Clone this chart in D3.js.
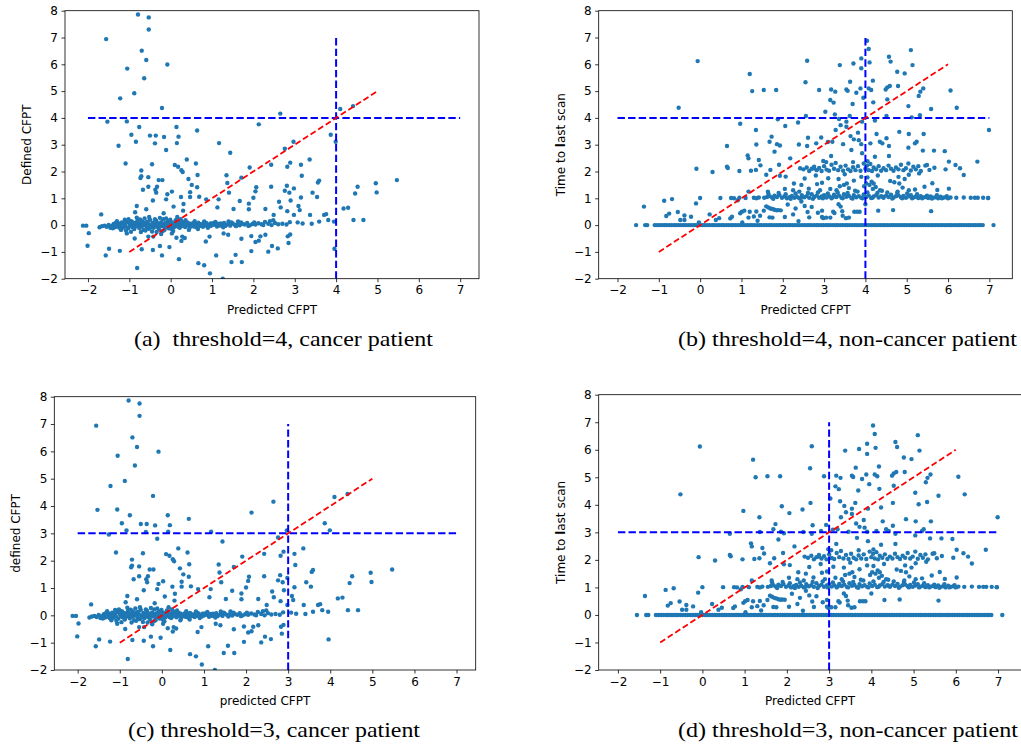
<!DOCTYPE html>
<html>
<head>
<meta charset="utf-8">
<script src="https://cdn.jsdelivr.net/npm/d3@7"></script>
<style>
  body { margin: 0; background: #fff; }
  svg { display: block; }
</style>
</head>
<body>
<svg id="chart" width="1021" height="746"></svg>
<script>
// tick values shared by every panel
let xTicks = [-2, -1, 0, 1, 2, 3, 4, 5, 6, 7]
let yTicks = [-2, -1, 0, 1, 2, 3, 4, 5, 6, 7, 8]

// cancer patients: scattered points (predicted, defined)
let cancerScatter = [
  [-0.79,7.86],[-0.53,7.75],[-0.53,7.30],[-1.56,6.94],[-0.70,6.51],[-0.59,6.16],[-0.08,5.99],
  [-1.05,5.84],[-0.64,5.48],[-0.88,4.92],[-1.22,4.73],[-0.21,4.37],[-1.53,3.86],[-1.06,3.87],
  [-0.76,3.66],[-0.95,3.37],[-0.50,3.34],[-0.36,3.34],[-0.84,3.11],[-1.26,2.96],[-0.38,3.05],
  [-0.16,3.29],[-0.11,2.80],[0.14,3.66],[0.19,3.30],[0.15,3.06],[0.64,3.53],[1.17,3.06],
  [1.44,2.70],[2.13,3.76],[2.65,4.16],[2.97,3.11],[2.76,2.85],[3.87,3.37],[3.99,3.11],
  [4.10,4.33],[4.41,4.44],[-1.09,2.30],[-0.45,2.27],[-0.71,2.04],[-0.71,1.82],[-0.73,1.76],
  [-0.54,1.79],[-0.29,1.68],[-0.20,1.68],[-0.54,1.43],[-0.67,1.32],[-0.37,1.32],[-0.33,1.43],
  [-0.35,1.21],[-0.43,0.92],[-0.59,0.59],[-0.82,0.71],[-0.86,0.48],[-1.68,0.40],[0.03,1.25],
  [-0.08,1.15],[-0.11,0.96],[0.10,2.24],[0.18,2.18],[0.26,2.05],[0.29,1.98],[0.39,2.45],
  [0.61,2.30],[0.65,1.87],[0.51,1.50],[0.43,1.72],[0.64,1.41],[0.47,1.23],[0.47,1.05],
  [0.25,1.05],[0.31,0.79],[0.69,1.06],[0.30,0.54],[0.07,0.69],[-0.17,0.44],[0.86,0.96],
  [1.16,0.96],[1.13,0.66],[1.35,1.86],[1.37,1.57],[1.41,1.21],[1.52,0.60],[1.67,0.90],
  [1.71,1.77],[1.91,2.15],[1.89,0.80],[1.89,0.59],[2.00,1.02],[2.05,1.26],[2.07,1.41],
  [2.29,0.60],[2.43,2.25],[2.43,1.43],[2.49,0.38],[2.62,0.87],[2.66,0.66],[2.82,2.18],
  [2.89,2.33],[2.81,1.47],[2.76,1.28],[2.87,1.21],[2.98,1.37],[2.90,0.92],[2.82,0.52],
  [2.98,0.38],[3.12,0.56],[3.15,2.25],[3.17,1.84],[3.15,1.03],[3.09,0.71],[3.36,2.45],
  [3.43,1.21],[3.54,1.05],[3.56,1.59],[3.59,1.66],[3.71,0.38],[3.37,0.38],[3.76,0.41],
  [4.18,0.62],[4.29,0.65],[4.46,1.18],[4.52,1.43],[4.96,1.56],[4.98,1.22],[5.47,1.68],
  [4.42,0.19],[4.66,0.19],[3.95,0.13],[3.81,0.19],[3.59,0.13],[3.41,0.05],[3.19,0.06],
  [3.07,0.10],[2.88,0.11],[-2.12,-0.02],[-2.04,-0.02],[-1.98,-0.30],[-2.01,-0.77],
  [-1.49,-0.88],[-1.57,-1.13],[-1.23,-0.96],[-1.06,-0.31],[-0.87,-0.50],[-0.70,-0.90],
  [-0.81,-1.60],[-0.43,-0.93],[-0.54,-0.43],[-0.42,-0.43],[-0.26,-0.78],[-0.21,-1.13],
  [-0.23,-0.33],[-0.03,-0.82],[0.14,-0.47],[0.28,-0.43],[0.26,-0.59],[0.34,-0.48],
  [0.20,-1.27],[0.03,-0.31],[0.67,-1.42],[0.81,-1.50],[0.95,-1.80],[1.26,-2.00],[0.85,-0.61],
  [0.94,-0.43],[1.10,-1.13],[1.28,-0.31],[1.39,-0.36],[1.47,-1.38],[1.57,-1.11],[1.72,-1.38],
  [1.71,-0.51],[1.95,-0.41],[1.95,-0.97],[2.05,-0.63],[2.13,-0.58],[2.17,-0.42],[2.29,-0.36],
  [2.36,-0.99],[2.45,-0.78],[2.59,-0.87],[2.83,-0.42],[2.89,-0.35],[2.85,-0.67],[3.96,-0.88]
]

// cancer patients: the dense band around zero
let cancerBand = [
  [-1.72,-0.08],[-1.66,-0.04],[-1.60,-0.02],[-1.55,-0.06],[-1.50,0.01],[-1.46,-0.10],[-1.42,-0.03],
  [-1.38,0.04],[-1.35,-0.08],[-1.31,0.00],[-1.28,-0.05],[-1.25,0.06],[-1.21,-0.02],[-1.18,0.10],
  [-1.15,-0.09],[-1.12,0.03],[-1.09,-0.04],[-1.06,0.12],[-1.03,-0.12],[-1.00,0.05],[-0.98,-0.02],
  [-0.95,0.15],[-0.93,-0.07],[-0.90,0.02],[-0.88,-0.15],[-0.85,0.08],[-0.83,-0.03],[-0.80,0.18],
  [-0.78,0.00],[-0.76,-0.11],[-0.73,0.06],[-0.71,-0.05],[-0.69,0.14],[-0.66,-0.18],[-0.64,0.03],
  [-0.62,-0.01],[-0.60,0.10],[-0.57,-0.08],[-0.55,0.05],[-0.53,-0.14],[-0.50,0.20],[-0.48,0.00],
  [-0.46,-0.05],[-0.44,0.09],[-0.41,-0.10],[-0.39,0.04],[-0.37,-0.02],[-0.35,0.16],[-0.32,-0.07],
  [-0.30,0.06],[-0.28,-0.16],[-0.25,0.01],[-0.23,0.11],[-0.21,-0.04],[-0.18,0.22],[-0.16,0.03],
  [-0.14,-0.09],[-0.12,0.08],[-0.09,-0.01],[-0.07,0.15],[-0.05,-0.12],[-0.02,0.04],[0.00,-0.05],
  [0.03,0.10],[0.05,0.00],[0.08,-0.08],[0.10,0.06],[0.13,-0.02],[0.15,0.13],[0.18,-0.06],
  [0.20,0.02],[0.23,0.08],[0.26,-0.04],[0.29,0.01],[0.32,0.05],[0.35,-0.07],[0.38,0.03],
  [0.41,-0.01],[0.45,0.06],[0.48,-0.03],[0.52,0.02],[0.56,-0.05],[0.60,0.04],[0.63,0.00],
  [0.67,0.09],[0.71,-0.03],[0.75,0.02],[0.79,0.05],[0.83,-0.02],[0.87,0.03],[0.92,0.00],
  [0.96,0.06],[1.00,-0.01],[1.05,0.03],[1.10,0.00],[1.14,0.05],[1.19,-0.02],[1.24,0.02],
  [1.29,0.08],[1.34,0.00],[1.39,0.04],[1.44,-0.02],[1.50,0.06],[1.55,0.01],[1.61,0.03],
  [1.67,-0.01],[1.73,0.05],[1.79,0.02],[1.85,0.08],[1.92,0.00],[1.98,0.04],[2.05,0.02],
  [2.12,0.07],[2.20,0.03],[2.28,0.12],[2.36,0.05],[2.44,0.00],[2.52,0.08],[2.60,0.03],
  [2.70,0.05],[2.80,0.02],
  [-1.40,-0.12],[-1.33,0.08],[-1.24,-0.10],[-1.14,0.07],[-1.08,-0.20],[-0.99,0.09],[-0.91,0.10],
  [-0.86,-0.06],[-0.79,0.05],[-0.74,0.21],[-0.68,-0.02],[-0.61,-0.20],[-0.56,0.13],[-0.49,-0.09],
  [-0.43,0.02],[-0.38,0.22],[-0.33,0.07],[-0.27,-0.03],[-0.20,0.05],[-0.15,-0.18],[-0.10,0.02],
  [-0.04,0.07],[0.02,-0.15],[0.07,0.03],[0.12,0.18],[0.17,0.05],[0.22,-0.10],[0.27,0.14],
  [0.33,-0.02],[0.40,0.10],[0.46,-0.10],[0.54,0.07],[0.62,-0.08],[0.70,0.04],[0.78,-0.06],
  [0.86,0.08],[0.95,-0.04],[1.02,0.07],[1.12,-0.05],[1.21,0.06],[1.32,-0.03],[1.47,0.10],
  [1.58,-0.04],[1.70,0.10],[1.88,-0.03],[2.02,0.10],[2.24,0.00],[2.40,0.15],[2.48,0.18],
  [-1.30,0.15],[-1.20,-0.18],[-1.11,0.20],[-1.02,0.22],[-0.96,-0.25],[-0.82,0.28],[-0.72,-0.26],
  [-0.63,0.25],[-0.52,0.30],[-0.45,-0.24],[-0.34,-0.26],[-0.26,0.27],[-0.19,-0.22],[-0.11,0.25],
  [-0.01,0.20],[0.06,-0.22],[0.16,0.30],[0.24,0.22],[0.36,0.18],[0.44,-0.18],[0.58,0.15],
  [0.66,-0.15],[0.81,0.14],[0.90,-0.10],[1.08,0.12],[1.27,-0.08],[1.40,0.14],[1.63,0.14]
]

// non-cancer patients: x values of the row sitting exactly at zero
let nonCancerZeroX = [
  -1.55,-1.33,-1.28,-1.10,-1.04,-0.98,-0.92,-0.86,-0.81,-0.75,-0.69,-0.63,-0.58,-0.52,-0.46,
  -0.40,-0.35,-0.29,-0.23,-0.17,-0.12,-0.06,0.00,0.06,0.11,0.17,0.23,0.29,0.34,0.40,0.46,0.52,
  0.57,0.63,0.69,0.75,0.80,0.86,0.92,0.98,1.03,1.09,1.15,1.21,1.26,1.32,1.38,1.44,1.49,1.55,
  1.61,1.67,1.72,1.78,1.84,1.90,1.95,2.01,2.07,2.13,2.18,2.24,2.30,2.36,2.41,2.47,2.53,2.59,
  2.64,2.70,2.76,2.82,2.87,2.93,2.99,3.05,3.10,3.16,3.22,3.28,3.33,3.39,3.45,3.51,3.56,3.62,
  3.68,3.74,3.79,3.85,3.91,3.97,4.02,4.08,4.14,4.20,4.25,4.31,4.37,4.43,4.48,4.54,4.60,4.66,
  4.71,4.77,4.83,4.89,4.94,5.00,5.06,5.12,5.17,5.23,5.29,5.35,5.40,5.46,5.52,5.58,5.63,5.69,
  5.75,5.81,5.86,5.92,5.98,6.04,6.09,6.15,6.21,6.27,6.32,6.38,6.44,6.50,6.55,6.61,6.67,6.73,
  6.78,6.84,7.10
]

// non-cancer patients: band around one
let nonCancerBand1 = [
  [0.75,1.01],[0.82,1.00],[0.95,1.02],[1.10,1.01],[1.30,1.02],[1.36,1.00],[1.42,1.03],[1.55,1.02],
  [1.62,1.05],[1.68,1.08],[1.74,1.03],[1.80,1.10],[1.86,1.05],[1.92,1.12],[1.98,1.02],[2.04,1.07],
  [2.10,1.00],[2.16,1.04],[2.22,1.09],[2.28,1.02],[2.34,1.06],[2.40,1.00],[2.46,1.12],[2.52,1.04],
  [2.58,1.08],[2.64,1.02],[2.70,1.15],[2.76,1.05],[2.82,1.10],[2.88,1.02],[2.94,1.07],[3.00,1.12],
  [3.06,1.03],[3.12,1.08],[3.18,1.00],[3.24,1.13],[3.30,1.05],[3.36,1.10],[3.42,1.02],[3.48,1.15],
  [3.54,1.06],[3.60,1.09],[3.66,1.01],[3.72,1.12],[3.78,1.04],[3.84,1.08],[3.90,1.02],[3.96,1.14],
  [4.02,1.05],[4.08,1.10],[4.14,1.01],[4.20,1.07],[4.26,1.12],[4.32,1.03],[4.38,1.08],[4.44,1.02],
  [4.50,1.10],[4.56,1.05],[4.62,1.13],[4.68,1.03],[4.74,1.08],[4.80,1.11],[4.86,1.04],[4.92,1.09],
  [4.98,1.02],[5.04,1.07],[5.10,1.12],[5.16,1.03],[5.22,1.06],[5.28,1.01],[5.34,1.08],[5.40,1.03],
  [5.46,1.05],[5.52,1.01],[5.58,1.07],[5.64,1.02],[5.70,1.04],[5.76,1.00],[5.82,1.06],[5.88,1.02],
  [5.94,1.04],[6.00,1.00],[6.06,1.03],[6.20,1.02],[6.38,1.03],[6.55,1.02],[6.65,1.02],[6.72,1.02],
  [6.85,1.02],[6.97,1.01],
  [1.65,1.18],[1.77,0.98],[1.90,1.20],[2.07,1.15],[2.19,0.98],[2.31,1.18],[2.44,1.02],[2.61,1.20],
  [2.73,0.98],[2.85,1.22],[2.97,1.00],[3.09,1.18],[3.21,1.04],[3.33,1.22],[3.45,1.00],[3.57,1.20],
  [3.69,0.99],[3.81,1.25],[3.93,1.00],[4.05,1.22],[4.17,1.02],[4.29,1.20],[4.41,1.06],[4.53,1.22],
  [4.65,0.99],[4.77,1.20],[4.89,1.00],[5.01,1.18],[5.13,1.00],[5.25,1.15],[5.37,1.00],[5.49,1.10],
  [5.61,0.99],[5.73,1.12],[5.85,1.00],[5.97,1.08],
  [2.25,1.30],[2.40,1.25],[2.05,1.35],[2.63,1.36],[2.90,1.30],[3.15,1.35],[3.30,1.30],[3.38,1.45],
  [3.48,1.50],[3.60,1.38],[3.75,1.28],[3.97,1.45],[4.02,1.55],[4.10,1.50],[4.18,1.35],[4.25,1.42],
  [4.35,1.30],[4.40,1.28],[4.78,1.25],[4.82,1.55],[4.90,1.40],[5.05,1.30],[5.20,1.33],[4.20,1.55],
  [3.55,1.55],[2.83,1.53]
]

// non-cancer patients: band around two
let nonCancerBand2 = [
  [2.42,2.12],[2.50,2.08],[2.58,2.15],[2.64,2.02],[2.70,2.10],[2.76,2.18],[2.82,2.05],[2.88,2.13],
  [2.94,2.02],[3.00,2.20],[3.06,2.07],[3.12,2.03],[3.18,2.25],[3.24,2.10],[3.28,2.32],[3.34,2.05],
  [3.40,2.18],[3.46,2.03],[3.52,2.22],[3.58,2.08],[3.64,2.02],[3.70,2.16],[3.76,2.05],[3.82,2.20],
  [3.88,2.03],[3.96,2.30],[4.00,2.10],[4.04,2.22],[4.08,2.05],[4.12,2.28],[4.16,2.02],[4.20,2.15],
  [4.26,2.08],[4.32,2.20],[4.38,2.03],[4.44,2.12],[4.50,2.05],[4.56,2.22],[4.62,2.10],[4.68,2.03],
  [4.74,2.15],[4.80,2.08],[4.86,2.25],[4.92,2.05],[4.98,2.12],[5.04,2.30],[5.10,2.04],[5.16,2.18],
  [5.22,2.08],[5.28,2.20],[5.34,2.02],[5.45,2.22],[5.55,2.06],[3.05,2.35],[3.70,2.35],[4.05,2.38],
  [2.27,1.55],[2.45,1.50],[2.95,1.58],[3.35,1.72],[3.50,1.90],[3.72,1.66],[3.90,1.80],[4.05,1.78],
  [4.15,1.62],[4.30,1.85],[4.60,1.65],[4.70,1.60],[4.95,1.72],[5.05,1.88],[4.80,1.80],[2.80,1.85],
  [3.10,1.75]
]

// non-cancer patients: everything else
let nonCancerScatter = [
  [-0.06,6.12],[-0.52,4.38],[-1.36,0.69],[-0.87,0.91],[-0.68,0.97],[-0.82,0.34],[-0.75,0.43],
  [-0.54,0.49],[-0.38,0.36],[-0.48,0.19],[-0.38,0.19],[-0.22,0.31],[-0.10,0.81],[0.00,1.01],
  [-0.09,2.10],[-0.03,0.10],[0.30,1.98],[0.23,0.40],[0.38,0.19],[0.46,0.26],[0.49,1.01],
  [0.65,2.95],[0.65,2.18],[0.67,2.13],[0.73,0.25],[0.77,0.31],[0.91,0.93],[0.95,2.02],
  [0.97,3.78],[0.97,0.44],[1.01,0.50],[1.07,0.54],[1.20,5.64],[1.15,2.60],[1.17,2.49],
  [1.17,1.25],[1.17,0.28],[1.26,5.00],[1.23,2.03],[1.35,3.55],[1.36,3.01],[1.35,2.06],
  [1.36,0.51],[1.42,2.43],[1.46,2.23],[1.39,0.16],[1.54,5.04],[1.54,0.54],[1.60,1.88],
  [1.70,2.06],[1.68,3.11],[1.73,3.30],[1.64,1.25],[1.68,0.29],[1.80,2.74],[1.84,5.04],
  [1.86,3.02],[1.93,2.97],[1.91,2.25],[1.88,3.95],[1.93,1.84],[1.89,0.56],[2.06,3.70],
  [2.07,1.81],[2.18,2.49],[2.31,0.62],[2.37,3.83],[2.39,3.01],[2.55,5.33],[2.56,4.07],
  [2.59,6.13],[2.61,3.26],[2.59,2.95],[2.53,1.74],[2.53,0.71],[2.60,0.49],[2.64,0.29],
  [2.88,5.04],[2.93,3.27],[2.81,3.05],[2.75,2.12],[2.98,2.39],[2.95,0.54],[2.98,0.26],
  [3.03,4.23],[3.09,3.10],[3.17,5.06],[3.15,4.67],[3.23,4.57],[3.27,4.98],[3.26,4.13],
  [3.28,3.55],[3.17,2.58],[3.20,3.11],[3.38,5.97],[3.40,3.73],[3.36,3.96],[3.46,3.02],
  [3.22,0.50],[3.40,0.69],[3.44,0.52],[3.53,0.26],[3.54,5.06],[3.57,5.01],[3.63,5.35],
  [3.62,4.07],[3.69,4.52],[3.54,3.86],[3.54,3.67],[3.64,3.32],[3.72,3.20],[3.66,2.80],
  [3.71,6.03],[3.78,4.94],[3.82,3.45],[3.84,3.17],[3.90,6.22],[3.90,5.85],[3.88,5.10],
  [3.92,3.86],[3.90,3.02],[3.92,2.68],[3.95,4.75],[3.73,0.50],[3.86,0.50],[4.04,6.88],
  [4.08,6.57],[4.10,6.07],[4.08,5.10],[4.14,5.04],[4.18,5.39],[4.19,4.58],[4.23,3.90],
  [4.12,3.05],[4.27,3.40],[4.23,2.55],[4.35,3.11],[4.41,3.05],[4.31,0.54],[4.49,5.06],
  [4.53,5.14],[4.59,5.19],[4.57,6.28],[4.61,6.10],[4.53,4.69],[4.51,4.07],[4.51,3.24],
  [4.57,2.95],[4.57,2.58],[4.67,0.56],[4.77,5.72],[4.79,5.19],[4.82,3.48],[4.95,5.66],
  [5.04,4.44],[5.10,6.53],[5.14,5.97],[5.05,3.40],[5.04,2.89],[5.12,4.02],[5.29,4.82],
  [5.33,4.98],[5.40,5.10],[5.32,4.10],[5.24,3.11],[5.20,3.05],[5.41,3.40],[5.39,2.78],
  [5.59,4.33],[5.66,2.78],[5.92,2.76],[6.06,5.02],[6.21,4.38],[5.59,0.52],[6.99,3.55],
  [6.71,2.37],[6.38,1.87],[6.29,2.12],[6.18,2.24],[6.02,2.37],[5.94,2.08],[5.67,2.14],
  [5.49,2.24],[5.30,1.93],[5.43,1.43],[5.62,1.56],[5.74,1.31],[6.02,1.36],[6.97,1.01],
  [1.60,0.70],[1.65,0.66],[1.70,0.62],[1.75,0.60],[1.80,0.57],[1.85,0.55],[1.95,0.55],
  [2.12,0.77],[2.25,0.40],[2.45,0.88],[2.70,0.68],[2.85,0.46],[3.05,0.28],[3.15,0.28],
  [3.25,0.45],[3.35,0.78],[3.45,0.35],[3.60,0.28],[3.80,0.50],[4.00,0.78],[1.30,0.32],
  [1.45,0.35],[1.20,0.50],[2.05,0.30],[2.38,0.15],[1.02,0.10],[1.75,0.28],[2.95,0.30]
]

let cancerPts = cancerBand.concat(cancerScatter)
let nonCancerPts = nonCancerZeroX.map(x => [x, 0])
  .concat(nonCancerBand1, nonCancerBand2, nonCancerScatter)

// capW is the width the caption spans in the figure (it is a bit wider than plain Times)
let panels = [
  {left: 65, top: 10.7, right: 479, bottom: 278.7, xDomain: [-2.555, 7.455], pts: cancerPts,
   thr: 4, redEnd: 5, xLabel: 'Predicted CFPT', yLabel: 'Defined CFPT',
   caption: '(a)  threshold=4, cancer patient', capX: 134, capY: 345.5, capW: 299},
  {left: 598.7, top: 10.7, right: 1012.3, bottom: 278.7, xDomain: [-2.455, 7.555], pts: nonCancerPts,
   thr: 4, redEnd: 6, xLabel: 'Predicted CFPT', yLabel: 'scan',
   caption: '(b) threshold=4, non-cancer patient', capX: 678, capY: 345.5, capW: 339},
  {left: 54.3, top: 396.7, right: 475.7, bottom: 670, xDomain: [-2.555, 7.455], pts: cancerPts,
   thr: 3, redEnd: 5, xLabel: 'predicted CFPT', yLabel: 'defined CFPT',
   caption: '(c) threshold=3, cancer patient', capX: 128, capY: 737, capW: 292},
  {left: 598.7, top: 394.7, right: 1021.5, bottom: 670, xDomain: [-2.455, 7.555], pts: nonCancerPts,
   thr: 3, redEnd: 6, xLabel: 'Predicted CFPT', yLabel: 'scan',
   caption: '(d) threshold=3, non-cancer patient', capX: 678, capY: 737, capW: 340}
]

let svg = d3.select('#chart')
svg.append('rect').attr('width', 1021).attr('height', 746).attr('fill', '#fff')

let fmt = d => d < 0 ? '\u2212' + Math.abs(d) : '' + d

panels.forEach((p, i) => {
  let x = d3.scaleLinear().domain(p.xDomain).range([p.left, p.right])
  let y = d3.scaleLinear().domain([-2, 8]).range([p.bottom, p.top])
  let g = svg.append('g')

  g.append('clipPath').attr('id', 'clip' + i)
    .append('rect')
    .attr('x', p.left).attr('y', p.top)
    .attr('width', p.right - p.left).attr('height', p.bottom - p.top)

  let plot = g.append('g').attr('clip-path', `url(#clip${i})`)

  plot.selectAll('circle')
    .data(p.pts)
    .enter().append('circle')
    .attr('cx', d => x(d[0]))
    .attr('cy', d => y(d[1]))
    .attr('r', 2.2)
    .attr('fill', '#1f77b4')

  // threshold lines
  plot.append('line')
    .attr('x1', x(-2)).attr('x2', x(7)).attr('y1', y(p.thr)).attr('y2', y(p.thr))
    .attr('stroke', '#0000ff').attr('stroke-width', 2).attr('stroke-dasharray', '7.4,3.2')
  plot.append('line')
    .attr('x1', x(p.thr)).attr('x2', x(p.thr)).attr('y1', y(-2)).attr('y2', y(7))
    .attr('stroke', '#0000ff').attr('stroke-width', 2).attr('stroke-dasharray', '7.4,3.2')
  plot.append('line')
    .attr('x1', x(-1)).attr('y1', y(-1)).attr('x2', x(p.redEnd)).attr('y2', y(p.redEnd))
    .attr('stroke', '#ff0000').attr('stroke-width', 1.8).attr('stroke-dasharray', '6,3')

  // axes
  let xAxis = g.append('g').attr('transform', `translate(0,${p.bottom})`)
    .call(d3.axisBottom(x).tickValues(xTicks).tickFormat(fmt).tickSize(3.5).tickPadding(3.5))
  let yAxis = g.append('g').attr('transform', `translate(${p.left},0)`)
    .call(d3.axisLeft(y).tickValues(yTicks).tickFormat(fmt).tickSize(3.5).tickPadding(3.5))
  ;[xAxis, yAxis].forEach(a => {
    a.select('.domain').remove()
    a.selectAll('line').attr('stroke', '#000').attr('stroke-width', 0.8)
    a.selectAll('text').attr('font-family', 'DejaVu Sans').attr('font-size', 12).attr('fill', '#000')
  })

  // frame
  g.append('rect')
    .attr('x', p.left).attr('y', p.top)
    .attr('width', p.right - p.left).attr('height', p.bottom - p.top)
    .attr('fill', 'none').attr('stroke', '#000').attr('stroke-width', 0.8)

  g.append('text')
    .attr('x', (p.left + p.right) / 2).attr('y', p.bottom + 35)
    .attr('text-anchor', 'middle')
    .attr('font-family', 'DejaVu Sans').attr('font-size', 12)
    .text(p.xLabel)

  let yl = g.append('text')
    .attr('transform', `translate(${p.left - 34},${(p.top + p.bottom) / 2}) rotate(-90)`)
    .attr('text-anchor', 'middle')
    .attr('font-family', 'DejaVu Sans').attr('font-size', 12)
  if (p.yLabel === 'scan') {
    yl.append('tspan').text('Time to ')
    yl.append('tspan').attr('font-weight', 'bold').text('l')
    yl.append('tspan').text('ast scan')
  } else {
    yl.text(p.yLabel)
  }

  svg.append('text')
    .attr('x', p.capX).attr('y', p.capY)
    .attr('font-family', 'Liberation Serif').attr('font-size', 21.5)
    .attr('textLength', p.capW).attr('lengthAdjust', 'spacingAndGlyphs')
    .style('white-space', 'pre')
    .text(p.caption)
})
</script>
</body>
</html>
